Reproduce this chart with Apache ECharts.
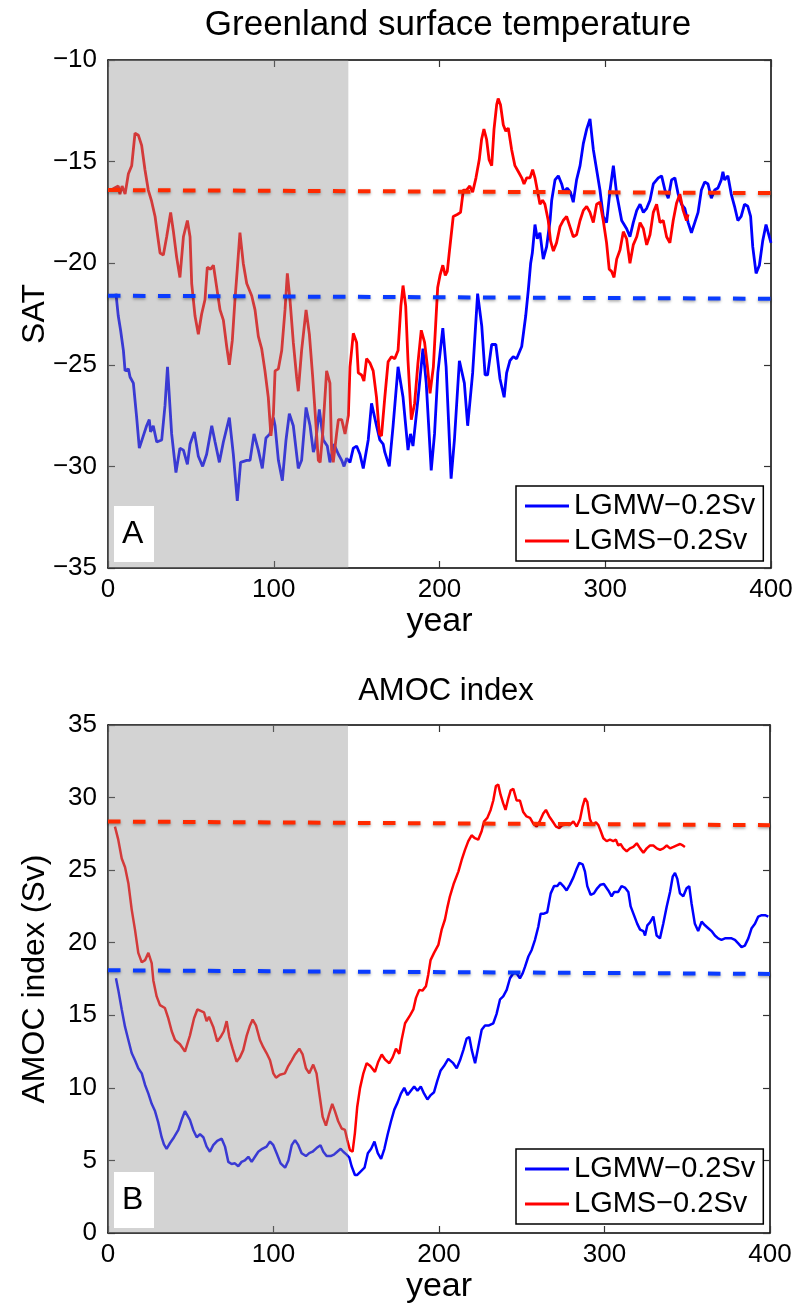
<!DOCTYPE html>
<html>
<head>
<meta charset="utf-8">
<script src="https://cdn.jsdelivr.net/npm/echarts@6/dist/echarts.min.js"></script>
<style>
  html, body { margin: 0; padding: 0; background: #fff; }
  #chart { width: 798px; height: 1307px; }
</style>
</head>
<body>
<div id="chart"></div>
<script>
// series names as in the legend
const names = ['LGMW\u22120.2Sv', 'LGMS\u22120.2Sv'];

// panel A: Greenland SAT, [year, value]
const satW = [[4.8,-21.5],[6.2,-22.6],[7.6,-23.3],[9.3,-24.3],[10.3,-25.3],[12.3,-25.2],[13.3,-25.6],[15.3,-25.9],[17.3,-27.6],[18.9,-29.1],[21.3,-28.5],[23.3,-28.0],[24.9,-27.7],[25.7,-28.3],[27.3,-28.0],[29.4,-28.8],[32.4,-28.7],[34.4,-27],[35.9,-25.1],[38.4,-28.4],[41,-30.3],[43.4,-29.1],[45.5,-29.2],[47.9,-29.9],[49.5,-28.9],[52.1,-28.3],[54.5,-29.5],[57.1,-30.0],[59.5,-29.4],[62.6,-28.0],[64.6,-28.8],[67.2,-29.8],[69.6,-28.8],[73.2,-27.6],[75.6,-29.4],[78,-31.7],[80,-29.8],[83.7,-29.7],[85.7,-29.7],[88.1,-28.4],[90.7,-29.2],[93.1,-30.1],[95.3,-28.6],[97.7,-28.4],[99.8,-27.6],[100.8,-28.0],[102.8,-29.7],[105.2,-30.7],[107.4,-28.7],[109.4,-27.4],[111.8,-28.0],[114.8,-30.1],[116.8,-29.7],[119.5,-27.1],[121.9,-28.0],[123.9,-29.3],[125,-29.0],[127.5,-27.2],[129.9,-28.7],[132.3,-29.0],[133.9,-29.8],[136.3,-28.9],[139,-29.4],[141,-29.7],[142.4,-30.0],[144,-29.6],[146,-29.8],[148,-29.1],[150,-29.0],[152,-29.4],[154,-30.1],[157,-28.7],[159,-26.9],[162,-28.0],[164,-28.7],[166,-28.9],[167,-29.3],[169.7,-30.0],[172,-28.0],[175,-25.1],[178,-26.6],[181,-29.2],[182.5,-28.4],[184,-29.0],[187,-26.7],[190,-24.2],[192,-25.9],[195,-30.2],[197,-28.4],[199,-25.4],[202,-23.2],[204,-25.1],[207,-30.6],[209,-28.7],[212,-24.8],[215,-25.9],[217,-28.0],[220,-25.4],[223,-21.5],[225.5,-23.1],[227.5,-25.5],[229,-25.5],[231.5,-24.0],[234,-24.0],[236.5,-25.7],[239,-26.6],[240.5,-25.4],[242.5,-24.8],[244.5,-24.6],[246.5,-24.7],[249.6,-24.1],[252,-22.6],[253.6,-21.3],[255,-20.0],[256,-19.5],[257.6,-18.1],[259,-18.8],[260.6,-18.5],[262.6,-19.8],[264.6,-19.2],[266.7,-17.9],[267.7,-16.9],[269.7,-15.9],[271.7,-15.7],[273.7,-16.1],[275,-16.5],[277,-16.3],[279,-16.5],[280.7,-17.0],[282.7,-15.9],[284.8,-15.2],[286.8,-14.1],[288.8,-13.4],[290.8,-12.9],[292.8,-14.4],[294.8,-15.4],[296.8,-16.4],[298.8,-17.7],[300.8,-18.0],[302.9,-16.4],[304.9,-15.2],[306.9,-16.6],[309.9,-17.9],[312.9,-18.3],[314.9,-18.7],[316.9,-18.0],[319,-17.4],[321,-17.1],[323,-17.5],[325,-17.3],[327,-16.9],[329,-16.1],[332,-15.8],[334,-15.7],[336,-16.4],[338,-16.8],[340,-15.9],[342,-15.8],[344,-16.6],[346,-17.1],[348,-17.3],[350,-18.0],[352,-18.5],[354,-18.0],[356,-17.5],[358,-16.4],[360,-16.0],[362,-16.1],[364,-16.8],[366,-16.4],[368,-16.3],[370,-15.9],[371,-15.5],[372,-15.9],[374,-15.7],[376,-16.6],[378,-17.2],[380,-17.9],[382,-17.7],[384,-17.1],[386,-17.2],[387.7,-17.7],[389,-19.2],[391,-20.5],[393,-20.1],[395,-18.9],[397,-18.1],[399,-18.7],[400,-19.0]];

const satS = [[0,-16.4],[2,-16.4],[4,-16.3],[6.2,-16.2],[7.2,-16.6],[8.5,-16.2],[10.3,-16.6],[12.3,-15.6],[14.3,-15.2],[16.3,-13.6],[18.3,-13.7],[20.3,-14.2],[22.3,-15.4],[24.3,-16.4],[26.3,-16.95],[28.4,-17.7],[29.7,-18.5],[31.4,-19.5],[33.4,-19.6],[35.4,-18.7],[37.8,-17.5],[39.4,-18.4],[41.4,-19.7],[43.4,-20.7],[45.5,-18.7],[47.9,-17.9],[49.5,-18.7],[50.5,-21.0],[52.5,-22.6],[54.5,-23.5],[56.5,-22.5],[58.5,-21.8],[59.9,-20.2],[61.9,-20.3],[63.6,-20.1],[65.6,-21.2],[67.6,-22.3],[69.6,-22.8],[71.6,-24.1],[73.2,-25.0],[75,-23.8],[76.6,-21.8],[78,-20.3],[79.6,-18.5],[81.6,-20.0],[83.7,-21.0],[86.7,-21.6],[88.7,-22.3],[90.7,-23.6],[92.7,-24.2],[94.7,-25.3],[96.7,-26.6],[98.3,-28.5],[99.8,-27.4],[100.8,-25.3],[102.8,-25.2],[104.8,-24.3],[106.8,-22.3],[108.2,-20.5],[109.8,-21.8],[111.8,-23.9],[113.8,-25.6],[114.8,-26.3],[116.8,-24.3],[119.5,-22.3],[121.5,-23.5],[123.5,-25.6],[125.5,-28.0],[126.9,-29.7],[128,-29.8],[129.5,-28.4],[131.9,-25.3],[133.9,-25.9],[134.9,-29.2],[135.9,-29.8],[137.9,-28.4],[139,-27.7],[141,-27.7],[143,-28.4],[145,-27.5],[146,-25.1],[148,-23.45],[150,-23.9],[151,-25.4],[153,-25.5],[154.4,-25.8],[156,-24.7],[158,-24.9],[160,-25.3],[162,-26.6],[163.7,-28.4],[165,-28.5],[167,-26.6],[169,-24.85],[171,-24.6],[173,-24.7],[175,-24.3],[176.7,-22.1],[178,-21.1],[179.6,-22.1],[181,-24.8],[183,-27.7],[185,-26.9],[187,-24.9],[189,-23.3],[191,-23.9],[192.6,-25.0],[194.3,-26.4],[196.3,-25.1],[197.7,-23.0],[198.9,-21.2],[200.3,-20.6],[202,-20.1],[203.5,-20.6],[204.7,-20.4],[206,-19.4],[208.3,-17.7],[210.7,-17.6],[212.7,-17.5],[214.4,-16.4],[216.3,-16.4],[218.3,-16.2],[220,-16.5],[222,-15.8],[224,-14.9],[225.4,-13.9],[226.8,-13.4],[228.4,-13.9],[229.9,-14.9],[231.5,-15.2],[232.9,-13.4],[234.5,-12.2],[235.4,-11.9],[236.8,-12.2],[238.5,-13.2],[240,-13.5],[241.5,-13.35],[243.5,-14.4],[245.5,-15.2],[247.6,-15.5],[249.6,-15.8],[251,-16.1],[252.6,-15.8],[254.6,-15.8],[256.2,-15.4],[257.6,-15.8],[259,-16.4],[260.6,-17.1],[262.2,-16.9],[263.6,-17.1],[265.6,-17.9],[267,-18.9],[268.7,-19.4],[270.6,-19.0],[272.7,-18.2],[274.6,-17.9],[276.7,-17.7],[278.7,-18.2],[280.7,-18.7],[282.7,-18.6],[284.8,-17.9],[286.8,-17.4],[288.8,-17.2],[290.8,-17.5],[292.8,-18.0],[294.8,-17.1],[296.8,-17.0],[298.8,-17.9],[300.8,-19.0],[302.4,-20.3],[303.8,-20.4],[305.3,-20.7],[306.9,-19.8],[308.9,-19.35],[310.9,-18.45],[312.9,-18.8],[314.9,-20.0],[316.9,-19.1],[319,-18.7],[321,-18.0],[323,-18.3],[325,-19.1],[327,-18.6],[329,-17.5],[331,-17.1],[333,-18.0],[335,-17.9],[337,-18.7],[339,-19.0],[341,-17.9],[343,-17.05],[345,-16.6],[347,-17.4],[349,-17.9],[350,-17.6]];

// panel B: AMOC index (Sv), [year, value]
const amocW = [[4.8,17.55],[6.2,16.75],[8.3,15.4],[10.3,14.2],[12.3,13.3],[14.3,12.4],[16.3,11.9],[18.3,11.35],[20.4,11.0],[22.4,10.2],[24.4,9.6],[26.4,8.9],[28.4,8.4],[30.4,7.6],[32.4,6.6],[33.8,6.1],[35.4,5.8],[37.5,6.2],[39.9,6.6],[42.5,7.1],[44.5,7.8],[46.5,8.4],[47.7,8.5],[49.5,7.8],[51.5,7.1],[53.6,6.6],[55.6,6.8],[57.6,6.6],[59.6,5.95],[61.6,5.6],[63.6,6.05],[66,6.35],[68.7,6.5],[70.7,5.95],[72.7,4.9],[74.7,4.75],[76.7,4.8],[78.7,4.6],[80.7,4.9],[82.7,5.0],[84.8,5.25],[86.8,4.9],[88.8,5.25],[90.8,5.6],[93.2,5.8],[95.8,5.95],[97.9,6.3],[99.9,6.05],[101.9,5.5],[104.3,4.8],[107,4.5],[109,5.0],[111,6.05],[113,6.4],[115,6.05],[117,5.5],[119.6,5.3],[121.6,5.5],[123.6,5.6],[126,5.85],[128.4,6.05],[130.1,5.6],[132.1,5.3],[134.5,5.3],[136.5,5.4],[138.5,5.6],[140.6,5.8],[142.2,5.6],[144.2,5.4],[145.8,5.2],[147.2,4.6],[149.2,4.0],[150.6,4.0],[152.3,4.2],[155,4.5],[157,5.5],[159,5.8],[161,6.3],[163,5.5],[165,5.1],[167,5.8],[169,6.8],[171,7.7],[173,8.5],[175,9.0],[177,9.6],[179,10.0],[181,9.5],[183,9.8],[185,10.1],[187,9.8],[189,10.1],[191,9.6],[193,9.2],[195,9.5],[197,9.7],[199,10.5],[201,11.2],[203,11.5],[205.6,12.0],[206.6,12.0],[208.6,11.7],[210.7,11.35],[212.7,11.9],[214.7,12.6],[216.7,13.4],[218.3,13.5],[219.8,12.6],[221.8,11.7],[223.7,12.8],[225.8,14.0],[227.8,14.3],[230.2,14.3],[232.8,14.45],[234.8,15.1],[236.9,16.1],[238.8,16.3],[240.9,16.75],[242.9,17.55],[244.9,17.9],[246.9,17.9],[248.9,17.55],[250.6,17.9],[252,18.35],[254,19.05],[256,19.5],[258,20.2],[260,21.1],[261.4,22.0],[263.4,22.0],[265.4,22.1],[267.5,23.4],[269.5,23.9],[271.5,23.9],[273.1,24.15],[275.1,23.9],[277.1,23.6],[279.1,24.0],[281.2,24.5],[283.2,25.1],[284.8,25.5],[286.8,25.4],[288.2,24.9],[289.6,23.9],[291.6,23.3],[293.6,23.4],[295.6,23.75],[297.6,24.0],[299.6,24.05],[302.3,23.6],[304.3,23.2],[305.9,23.5],[308.3,23.5],[310.3,23.9],[312.3,23.8],[314.4,23.5],[315.8,22.5],[317.8,21.9],[319.8,21.3],[321.5,20.9],[323.5,20.8],[324.5,20.5],[325.9,21.2],[327.5,21.4],[329.5,21.8],[331.5,20.5],[333.5,20.3],[335.5,21.3],[337.6,22.5],[339.6,23.5],[341.2,24.55],[342.6,24.8],[344,24.4],[345.6,23.4],[347.6,23.2],[349.6,23.75],[351.2,23.9],[352.6,22.7],[354.6,21.3],[356.6,20.8],[358.7,21.45],[360.7,21.2],[362.7,21.0],[364.7,20.8],[366.7,20.5],[368.7,20.3],[370.7,20.2],[372.8,20.3],[374.8,20.3],[376.8,20.3],[378.8,20.2],[380.8,19.95],[382.8,19.7],[384.8,19.8],[386.9,20.3],[388.9,21.0],[390.9,21.3],[392.9,21.8],[395,21.9],[397,21.9],[399,21.8]];

const amocS = [[4.2,28.0],[6.2,27.1],[8.3,25.8],[10.3,25.2],[12.3,24.1],[14.3,22.3],[16.3,20.9],[18.3,19.3],[20.4,18.65],[22.4,18.8],[24.4,19.3],[26.4,18.6],[27.4,17.4],[29.4,16.3],[31.4,15.7],[34.4,15.5],[36.4,14.8],[38.5,13.9],[40.5,13.3],[43.5,13.0],[46.5,12.5],[47.7,12.4],[49.5,13.6],[52,14.8],[54,15.4],[56,15.3],[58,15.2],[59.6,14.6],[61,14.9],[63.6,14.2],[66,13.2],[68,13.5],[70,13.9],[71.7,14.6],[73.3,13.5],[75.3,12.7],[77.7,11.8],[79.7,12.1],[81.7,12.6],[83.8,13.6],[85.8,14.3],[87.4,14.7],[89.4,14.3],[91.8,13.3],[93.8,12.8],[95.8,12.4],[97.9,11.9],[99.9,11.0],[101.5,10.7],[103.9,10.9],[106.9,11.0],[108.9,11.5],[111,11.9],[113,12.3],[115.6,12.7],[117.6,12.3],[119.6,11.35],[121.6,11.0],[124,11.6],[126,11.0],[127.7,9.6],[129.7,8.0],[131.7,7.4],[133.7,8.25],[135.5,8.9],[137.1,8.4],[139.1,7.7],[141.2,7.2],[143.2,7.1],[144.6,6.4],[146.2,5.7],[147.8,5.6],[149.2,6.9],[150.6,8.7],[152.3,10.0],[154.3,11.0],[156.3,11.7],[158.5,11.5],[161.3,11.1],[163.3,11.8],[165.4,12.3],[167.4,11.95],[170,11.7],[172,12.1],[174,12.7],[176,12.35],[177.4,13.3],[179.5,14.45],[182.5,15.0],[184.5,15.4],[186.1,16.2],[188.1,16.75],[190,16.7],[192.1,17.0],[193.5,17.8],[194.9,18.8],[197,19.3],[199.6,19.85],[201.6,20.9],[203.6,21.6],[205,22.4],[206.6,23.2],[209,24.1],[211.7,24.9],[213.7,25.7],[215.7,26.4],[217.7,27.0],[219.7,27.4],[221.7,27.2],[223.7,27.1],[225.8,27.7],[227.2,28.35],[229.2,28.6],[231.2,29.15],[232.8,29.8],[234.4,30.8],[235.8,30.9],[237.2,30.2],[238.8,29.6],[240.2,29.15],[241.9,29.95],[243.3,30.5],[244.9,30.6],[246.9,29.8],[248.9,29.8],[250.9,29.0],[252.9,28.7],[255,28.6],[257,28.2],[259,28.0],[261,28.4],[263,28.9],[264.6,29.15],[266.6,28.7],[268.7,28.35],[270.7,28.0],[272.7,27.9],[274.5,28.1],[276.8,28.15],[278.8,28.1],[281.2,28.35],[283.2,28.0],[285.2,28.5],[286.8,29.4],[288.2,29.95],[289.6,29.7],[291.2,28.5],[292.8,28.1],[294.8,28.3],[296.3,28.1],[297.7,27.7],[299.3,27.2],[301.3,27.0],[303.3,27.1],[305.3,27.0],[306.9,27.1],[308.3,26.7],[309.7,26.8],[311.4,26.5],[313.4,26.3],[315.4,26.5],[317.4,26.6],[319.5,26.85],[321.5,26.5],[323.5,26.2],[325.5,26.5],[327.5,26.7],[329.5,26.7],[331.6,26.5],[333.6,26.4],[335.6,26.5],[337.6,26.7],[339.6,26.5],[341.7,26.6],[343.7,26.7],[345.7,26.8],[347.3,26.7],[348.6,26.6]];

// dashed reference levels
const satRefW = [[0,-21.6],[400,-21.75]];
const satRefS = [[0,-16.4],[400,-16.55]];
const amocRefW = [[0,18.1],[400,17.85]];
const amocRefS = [[0,28.35],[400,28.1]];

// spin-up period shaded grey
const shade = [[0, 145]];

const FONT = 'Liberation Sans, Arial, Helvetica, sans-serif';
const minus = v => String(v).replace('-', '\u2212');

const chart = echarts.init(document.getElementById('chart'));

function xAxes(grid) {
  const base = {
    gridIndex: grid, type: 'value', min: 0, max: 400, interval: 100,
    splitLine: { show: false },
    axisLine: { onZero: false, lineStyle: { color: '#000', width: 1.5 } },
    axisTick: { inside: true, length: 7, lineStyle: { color: '#333', width: 1.2 } }
  };
  return [
    Object.assign({}, base, {
      position: 'bottom',
      axisLabel: { color: '#000', fontSize: 26, fontFamily: FONT, margin: 9 },
      name: 'year', nameLocation: 'middle', nameGap: 37, nameMoveOverlap: false,
      nameTextStyle: { color: '#000', fontSize: 34, fontFamily: FONT }
    }),
    Object.assign({}, base, { position: 'top', axisLabel: { show: false } })
  ];
}

function yAxes(grid, min, max, name) {
  const base = {
    gridIndex: grid, type: 'value', min: min, max: max, interval: 5,
    splitLine: { show: false },
    axisLine: { onZero: false, lineStyle: { color: '#000', width: 1.5 } },
    axisTick: { inside: true, length: 7, lineStyle: { color: '#333', width: 1.2 } }
  };
  return [
    Object.assign({}, base, {
      position: 'left',
      axisLabel: { color: '#000', fontSize: 26, fontFamily: FONT, margin: 11, formatter: minus },
      name: name, nameLocation: 'middle', nameRotate: 90, nameGap: 57, nameMoveOverlap: false,
      nameTextStyle: { color: '#000', fontSize: 32, fontFamily: FONT }
    }),
    Object.assign({}, base, { position: 'right', axisLabel: { show: false } })
  ];
}

function dataLine(name, data, color, ax, width) {
  return {
    name: name, type: 'line', data: data, xAxisIndex: ax, yAxisIndex: ax,
    showSymbol: false, symbol: 'none', smooth: false, z: 2,
    lineStyle: { color: color, width: width }, itemStyle: { color: color }
  };
}

function refLine(data, color, ax) {
  return {
    type: 'line', data: data, xAxisIndex: ax, yAxisIndex: ax, symbol: 'none', z: 5,
    silent: true,
    lineStyle: { color: color, width: 4, type: [12.5, 12.5],
      shadowBlur: 3, shadowColor: 'rgba(0,0,0,0.35)', shadowOffsetY: 1.5 }
  };
}

function shadeSeries(ax, yMin, yMax) {
  return {
    type: 'custom', xAxisIndex: ax, yAxisIndex: ax, data: shade, z: 4, silent: true,
    renderItem: function (params, api) {
      const p0 = api.coord([api.value(0), yMax]);
      const p1 = api.coord([api.value(1), yMin]);
      return {
        type: 'rect',
        shape: { x: p0[0], y: p0[1], width: p1[0] - p0[0], height: p1[1] - p0[1] },
        style: { fill: 'rgba(145,145,145,0.4)' }
      };
    }
  };
}

function legendAt(top) {
  return {
    orient: 'vertical', left: 516, top: top, data: names,
    icon: 'rect', itemWidth: 44, itemHeight: 3, itemGap: 5,
    padding: [5, 8, 5, 9],
    backgroundColor: '#fff', borderColor: '#000', borderWidth: 1.5,
    textStyle: { color: '#000', fontSize: 29, fontFamily: FONT, lineHeight: 30 }
  };
}

// white label box in the lower-left corner of each panel
function panelTag(letter, x, y) {
  return [
    { type: 'rect', left: x, top: y, z: 100, zlevel: 1,
      shape: { width: 40, height: 56 }, style: { fill: '#fff' } },
    { type: 'text', left: x + 8, top: y + 12, z: 101, zlevel: 1,
      style: { text: letter, fill: '#000', font: '32px ' + FONT } }
  ];
}

chart.setOption({
  animation: false,
  backgroundColor: '#fff',
  title: [
    { text: 'Greenland surface temperature', left: 443, top: 3, textAlign: 'center',
      textStyle: { color: '#000', fontSize: 35, fontWeight: 'normal', fontFamily: FONT } },
    { text: 'AMOC index', left: 441, top: 671, textAlign: 'center',
      textStyle: { color: '#000', fontSize: 31, fontWeight: 'normal', fontFamily: FONT } }
  ],
  grid: [
    { left: 108, top: 60, width: 663, height: 508 },
    { left: 108, top: 725, width: 662, height: 508 }
  ],
  xAxis: xAxes(0).concat(xAxes(1)),
  yAxis: yAxes(0, -35, -10, 'SAT').concat(yAxes(1, 0, 35, 'AMOC index (Sv)')),
  legend: [legendAt(486), legendAt(1149)],
  graphic: panelTag('A', 114, 506).concat(panelTag('B', 114, 1172)),
  series: [
    dataLine(names[0], satW, '#0000ff', 0, 2.8),
    dataLine(names[1], satS, '#ff0000', 0, 2.8),
    shadeSeries(0, -35, -10),
    refLine(satRefS, '#ff2a00', 0),
    refLine(satRefW, '#0a3cff', 0),
    dataLine(names[0], amocW, '#0000ff', 2, 2.5),
    dataLine(names[1], amocS, '#ff0000', 2, 2.5),
    shadeSeries(2, 0, 35),
    refLine(amocRefS, '#ff2a00', 2),
    refLine(amocRefW, '#0a3cff', 2)
  ]
});
</script>
</body>
</html>
